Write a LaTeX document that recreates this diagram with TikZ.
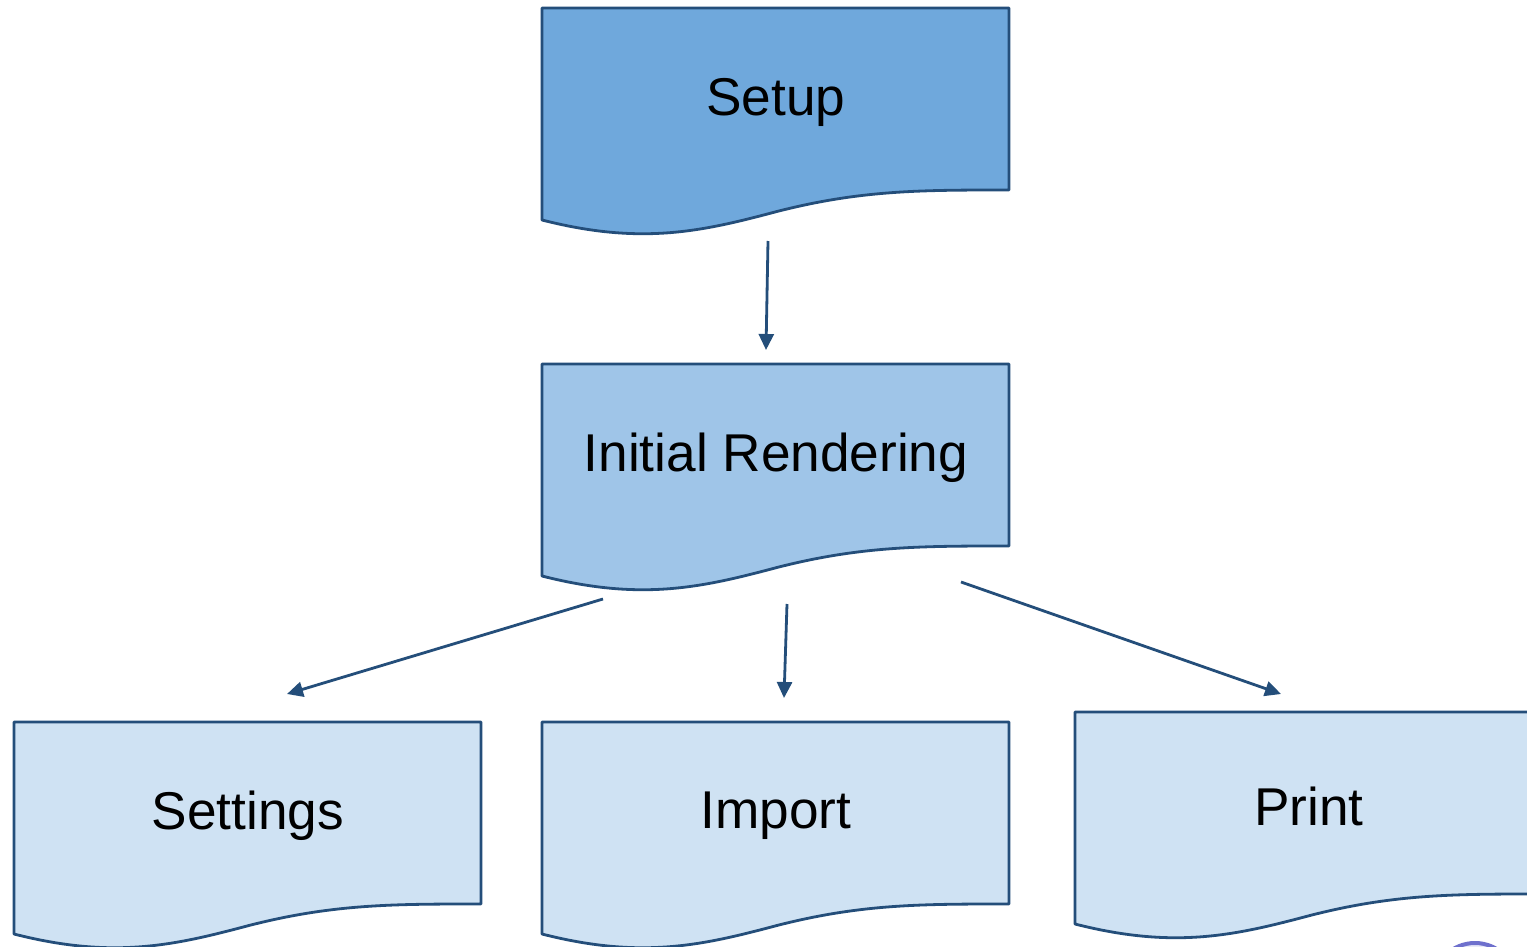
\documentclass[tikz,border=0pt]{standalone}
\usepackage{fontspec}
\setmainfont{Liberation Sans}
\usetikzlibrary{arrows.meta}

\definecolor{edgeblue}{RGB}{36,78,122}
\definecolor{fillA}{RGB}{111,168,220}
\definecolor{fillB}{RGB}{159,197,232}
\definecolor{fillC}{RGB}{207,226,243}
\definecolor{ringblue}{RGB}{110,112,205}

\tikzset{
  docline/.style={draw=edgeblue, line width=1.4pt, line join=round},
  doclabel/.style={font=\fontsize{26.6}{30}\selectfont, text=black, inner sep=0pt},
  flow/.style={draw=edgeblue, line width=1.4pt,
    -{Triangle[length=8pt,width=7.5pt]}},
}

% document-shaped box: flat top, straight sides, wavy bottom edge
% #1 name, #2 x, #3 y (top-left), #4 fill, #5 text
\newcommand{\docbox}[5]{%
  \begin{scope}[shift={(#2,#3)}]
    \path[docline, fill=#4] (0,0) -- (467,0) -- (467,182)
      .. controls (378,182) and (318,182) .. (233,204)
      .. controls (158,224) and (98,237) .. (0,212) -- cycle;
    \node[doclabel] (#1) at (234,94) {#5};
  \end{scope}}

\begin{document}
\begin{tikzpicture}[x=0.5pt,y=-0.5pt]
  \path[fill=white] (0,0) rectangle (1527,947);
  \useasboundingbox (0,0) rectangle (1527,947);
  \clip (0,0) rectangle (1527,947);

  \docbox{setup}{542}{8}{fillA}{Setup}
  \docbox{render}{542}{364}{fillB}{Initial Rendering}
  \docbox{settings}{14}{722}{fillC}{Settings}
  \docbox{import}{542}{722}{fillC}{Import}
  \docbox{print}{1075}{712}{fillC}{Print}

  % partly visible ring in the lower right corner
  \draw[draw=ringblue, line width=2pt, fill=ringblue!15] (1475,985) circle (42);

  % connector end points
  \coordinate (setup-out) at (768,241);
  \coordinate (render-in) at (766,350);
  \coordinate (render-outL) at (603,599);
  \coordinate (render-outM) at (787,604);
  \coordinate (render-outR) at (961,582);
  \coordinate (settings-in) at (287,694);
  \coordinate (import-in) at (784,698);
  \coordinate (print-in) at (1281,694);

  \draw[flow] (setup-out) -- (render-in);
  \draw[flow] (render-outL) -- (settings-in);
  \draw[flow] (render-outM) -- (import-in);
  \draw[flow] (render-outR) -- (print-in);
\end{tikzpicture}
\end{document}
